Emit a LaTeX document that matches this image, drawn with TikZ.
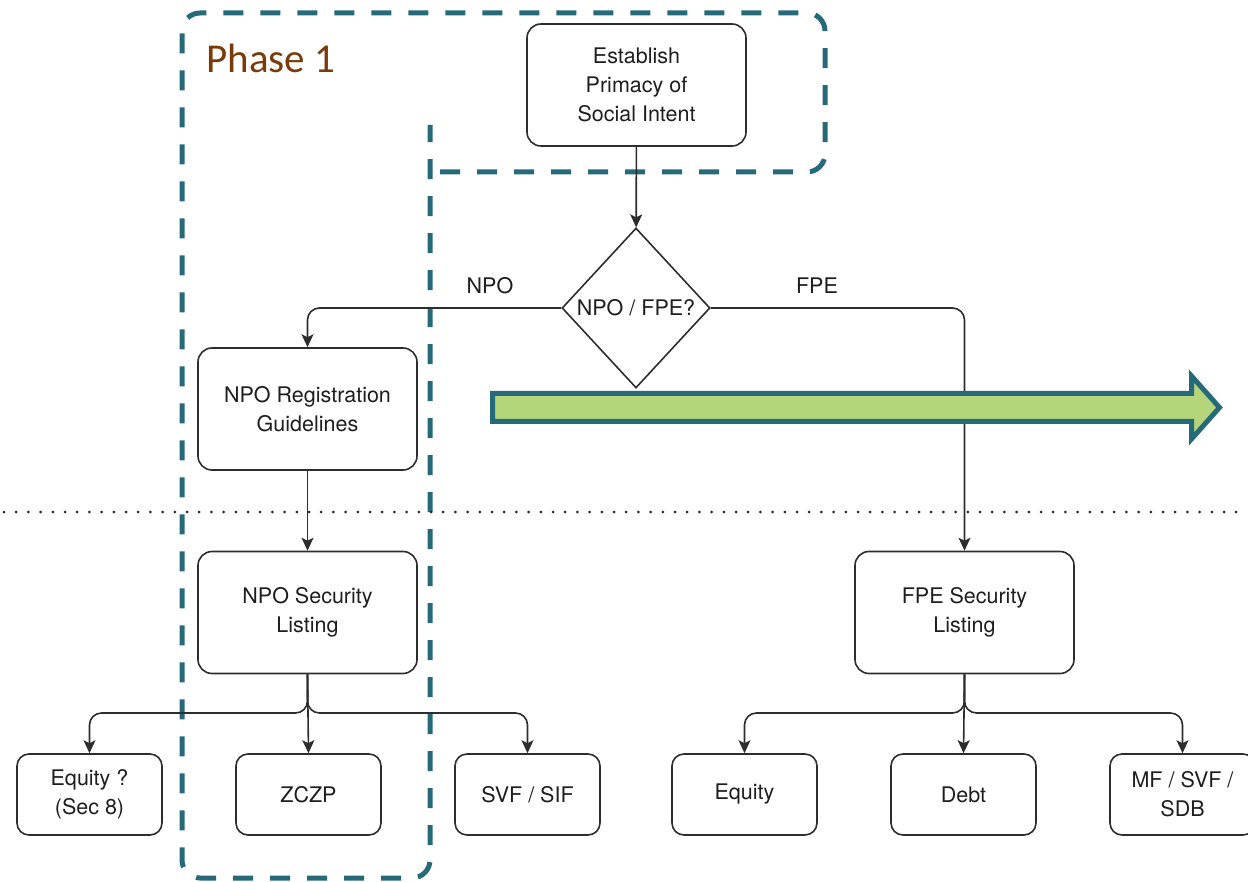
\documentclass[tikz,border=0pt]{standalone}
\usepackage{fontspec}
\setmainfont{TeX Gyre Heros}
\newfontfamily\phasefont{Carlito}
\usetikzlibrary{shapes.geometric,arrows.meta}
\definecolor{tealc}{RGB}{38,106,122}
\definecolor{greenc}{RGB}{181,213,123}
\definecolor{brownc}{RGB}{122,58,10}
\definecolor{linec}{RGB}{45,45,45}
\definecolor{textc}{RGB}{30,30,30}
\begin{document}
\begin{tikzpicture}[x=1pt,y=-1pt,
  txt/.style={font=\fontsize{21.5}{29}\selectfont, text=textc, align=center},
  bigbox/.style={txt, draw=linec, line width=1.6pt, rounded corners=14pt,
    minimum width=219pt, minimum height=122pt, inner sep=0pt},
  smallbox/.style={txt, draw=linec, line width=1.6pt, rounded corners=12pt,
    minimum width=145pt, minimum height=81pt, inner sep=0pt},
  decision/.style={txt, draw=linec, line width=1.6pt, shape=diamond,
    minimum width=148pt, minimum height=160pt, inner sep=0pt},
  conn/.style={draw=linec, line width=1.6pt, rounded corners=12pt,
    -{Stealth[length=13pt,width=12pt,inset=3pt]}},
  phaseline/.style={draw=tealc, line width=5pt, dash pattern=on 20pt off 17pt},
  lbl/.style={txt}
]
\useasboundingbox (0,0) rectangle (1248,882);

% Phase 1 outline
\draw[phaseline, rounded corners=18pt] (440,172) -- (825,172) -- (825,13) -- (182,13)
  -- (182,878) -- (430,878) -- (430,125);
\node[font=\phasefont\fontsize{41}{44}\selectfont, text=brownc] (ph) at (271,58) {Phase 1};

% nodes
\node[bigbox] (est) at (636.5,85) {Establish\\Primacy of\\Social Intent};
\node[decision] (dec) at (636,308) {NPO / FPE?};
\node[bigbox] (npoReg) at (307.5,409) {NPO Registration\\Guidelines};
\node[bigbox] (npoSec) at (307.5,612.5) {NPO Security\\Listing};
\node[bigbox] (fpeSec) at (964.5,612.5) {FPE Security\\Listing};

\node[smallbox] (eq1) at (89.5,794.5) {Equity ?\\(Sec 8)};
\node[smallbox] (zczp) at (308.5,794.5) {ZCZP};
\node[smallbox] (svf) at (527.5,794.5) {SVF / SIF};
\node[smallbox] (eq2) at (744.5,794.5) {Equity};
\node[smallbox] (debt) at (963.5,794.5) {Debt};
\node[smallbox] (mf) at (1182.5,794.5) {MF / SVF /\\SDB};

% labels
\node[lbl] (lnpo) at (490,286) {NPO};
\node[lbl] (lfpe) at (817,286) {FPE};

% connectors
\draw[conn] (est) -- (dec);
\draw[conn] (dec.west) -| (npoReg.north);
\draw[conn] (dec.east) -| (fpeSec.north);
\draw[conn] (npoReg) -- (npoSec);

\coordinate (j1) at (307.5,713);
\draw[conn] (npoSec.south) -- (j1) -| (eq1.north);
\draw[conn] (npoSec.south) -- (j1) -| (svf.north);
\draw[conn] (npoSec.south) -- (zczp.north);

\coordinate (j2) at (964.5,713);
\draw[conn] (fpeSec.south) -- (j2) -| (eq2.north);
\draw[conn] (fpeSec.south) -- (j2) -| (mf.north);
\draw[conn] (fpeSec.south) -- (debt.north);

% dotted divider
\coordinate (dl) at (4,512);
\coordinate (dr) at (1248,512);
\draw[line width=3pt, line cap=round, dash pattern=on 0pt off 12.2pt, black!85] (dl) -- (dr);

% green arrow
\draw[draw=tealc, fill=greenc, line width=5pt, miter limit=10]
  (492.5,393.5) -- (1191.5,393.5) -- (1191.5,376) -- (1219.5,407.5)
  -- (1191.5,439) -- (1191.5,421.5) -- (492.5,421.5) -- cycle;
\end{tikzpicture}
\end{document}
